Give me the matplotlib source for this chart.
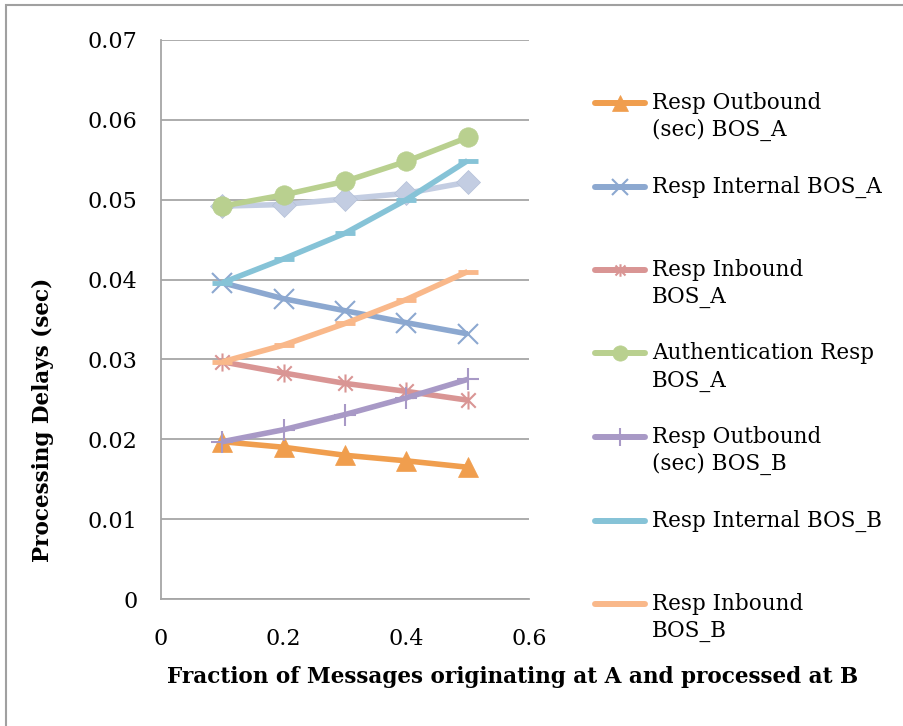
import numpy as np
import matplotlib
matplotlib.use("Agg")
import matplotlib.pyplot as plt
from matplotlib.lines import Line2D
from matplotlib.patches import Rectangle
from matplotlib.path import Path

plt.rcParams['font.family'] = ['DejaVu Serif']

fraction = [0.1, 0.2, 0.3, 0.4, 0.5]

outbound_a = [0.0197, 0.0190, 0.0180, 0.0173, 0.0165]
internal_a = [0.0396, 0.0376, 0.0361, 0.0346, 0.0332]
inbound_a = [0.0297, 0.0283, 0.0270, 0.0260, 0.0249]
auth_a = [0.0492, 0.0506, 0.0523, 0.0548, 0.0578]
outbound_b = [0.0197, 0.0212, 0.0231, 0.0252, 0.0275]
internal_b = [0.0396, 0.0426, 0.0458, 0.0500, 0.0549]
inbound_b = [0.0297, 0.0318, 0.0345, 0.0375, 0.0410]
auth_b = [0.0492, 0.0494, 0.0501, 0.0508, 0.0522]

labels = ['Resp Outbound\n(sec) BOS_A', 'Resp Internal BOS_A', 'Resp Inbound\nBOS_A',
          'Authentication Resp\nBOS_A', 'Resp Outbound\n(sec) BOS_B', 'Resp Internal BOS_B',
          'Resp Inbound\nBOS_B']

# excel style "star" marker: an x with a vertical bar through it
star = Path([(-1, -1), (1, 1), (-1, 1), (1, -1), (0, -1.25), (0, 1.25)],
            [Path.MOVETO, Path.LINETO, Path.MOVETO, Path.LINETO, Path.MOVETO, Path.LINETO])

# (values, color, marker, size, filled, marker edge width, legend marker size)
series = [
    (outbound_a, '#F09E4E', '^', 14, True, 0.5, 11),
    (internal_a, '#8CA8D0', 'x', 14, False, 1.5, 11),
    (inbound_a, '#D99594', star, 13, False, 1.5, 9),
    (auth_a, '#B9D08F', 'o', 14, True, 0.5, 11),
    (outbound_b, '#A899C6', '+', 16, False, 1.5, 13),
    (internal_b, '#86C3D7', '_', 14, False, 3.5, 0),
    (inbound_b, '#F9B88A', '_', 14, False, 3.5, 0),
]

fig = plt.figure(figsize=(9.04, 7.26), dpi=100)
ax = fig.add_axes([161 / 904, 1 - 599 / 726, 368 / 904, 559 / 726])

# diamond series drawn first so the others sit above it
ax.plot(fraction, auth_b, color='#C3CDE2', lw=4, marker='D', ms=12,
        mfc='#C3CDE2', mec='#B4C0D8', mew=0.5, solid_capstyle='butt', zorder=2)

for vals, c, m, ms, filled, mew, lms in series:
    ax.plot(fraction, vals, color=c, lw=4, marker=m, ms=ms,
            mfc=c if filled else 'none', mec=c, mew=mew,
            solid_capstyle='butt', zorder=3)

ax.set_xlim(0, 0.6)
ax.set_ylim(0, 0.07)
ax.set_xticks([0, 0.2, 0.4, 0.6])
ax.set_xticklabels(['0', '0.2', '0.4', '0.6'])
ax.set_yticks(np.arange(0, 0.071, 0.01))
ax.set_yticklabels(['0', '0.01', '0.02', '0.03', '0.04', '0.05', '0.06', '0.07'])
ax.tick_params(length=0, labelsize=16)
ax.tick_params(axis='y', pad=17)
ax.tick_params(axis='x', pad=21)
ax.grid(axis='y', color='#A6A6A6', lw=1.3)
ax.set_axisbelow(True)
for s in ['top', 'right']:
    ax.spines[s].set_visible(False)
for s in ['left', 'bottom']:
    ax.spines[s].set_color('#A6A6A6')
    ax.spines[s].set_linewidth(1.3)

ax.set_xlabel('Fraction of Messages originating at A and processed at B',
              fontsize=15.5, fontweight='bold')
ax.xaxis.set_label_coords(0.954, -0.12)
ax.set_ylabel('Processing Delays (sec)', fontsize=15.5, fontweight='bold')
ax.yaxis.set_label_coords(-0.29, 0.32)

# legend drawn by hand, one slot per entry like Excel
for i, (lab, (vals, c, m, ms, filled, mew, lms)) in enumerate(zip(labels, series)):
    y = 1 - (103 + 83.5 * i) / 726
    fig.add_artist(Line2D([595 / 904, 645 / 904], [y, y], transform=fig.transFigure,
                          color=c, lw=4.3, solid_capstyle='round'))
    if lms:
        fig.add_artist(Line2D([620 / 904], [y], transform=fig.transFigure, ls='none',
                              marker=m, ms=lms, mfc=c if filled else 'none',
                              mec=c, mew=mew))
    fig.text(652 / 904, y + 11 / 726, lab, fontsize=15.5, va='top',
             linespacing=1.3)

# outer chart border
fig.add_artist(Rectangle((6 / 904, -0.1), 1.1, 1 - 5 / 726 + 0.1, transform=fig.transFigure,
                         fill=False, ec='#A0A0A0', lw=1.5))

fig.savefig('out.png', dpi=100)
